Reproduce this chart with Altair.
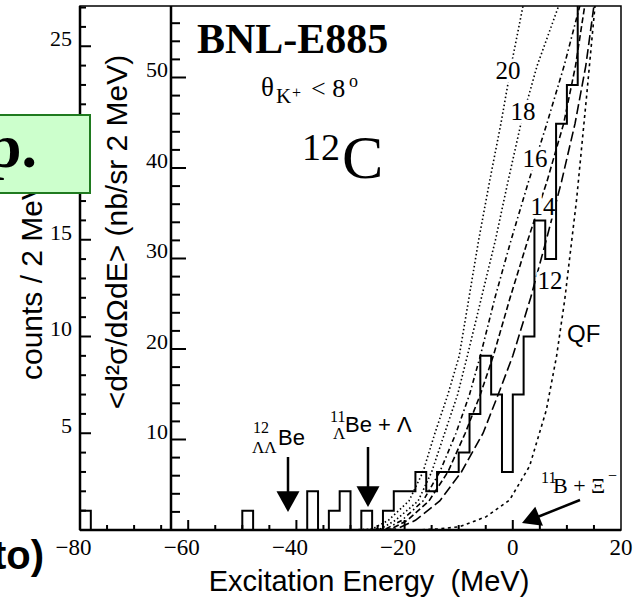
import altair as alt
import pandas as pd

# ---------------- data ----------------
# histogram: 2-MeV bins (left edges) and counts; the last bin runs off the top
bin_left_edges = list(range(-80, 14, 2))
bin_counts = [1, 0, 0, 0, 0, 0, 0, 0, 0, 0, 0, 0, 0, 0, 0,
              1, 0, 0, 0, 0, 0,
              2, 0, 1, 2, 0, 1, 0,
              1, 2, 2, 3, 2, 3,
              3, 4, 6, 9, 7, 3,
              7, 10, 16, 14, 21, 23, 28]

# calculated spectra, read at fixed count levels
curve_levels = [0, 0.05, 0.5, 1.5, 3, 5, 7, 9, 12, 15, 18, 21, 24, 27.1]
curve20_E = [-30, -26, -23, -19.2, -16.6, -14.4, -12.0, -9.9, -8.1, -6.3, -4.3, -2.2, -0.3, 1.9]
curve18_E = [-29, -24.5, -21.7, -17.5, -15.0, -12.6, -10.2, -8.4, -5.8, -3.2, -0.9, 1.5, 4.5, 8.5]
curve16_E = [-28, -23.5, -20.5, -16.6, -13.5, -10.5, -8.0, -6.0, -3.3, -0.3, 2.9, 6.3, 9.5, 12.4]
curve14_E = [-27, -22.5, -19.5, -15.5, -12.0, -8.8, -6.0, -3.6, -0.5, 2.8, 6.3, 9.4, 11.6, 13.3]
curve12_E = [-26, -21.5, -18.0, -13.5, -9.5, -5.5, -2.7, 0.0, 3.3, 6.2, 9.0, 11.5, 13.5, 15.0]
qf_E = [-18, -14, -9.8, -4.9, -0.6, 3.1, 6.2, 8.1, 9.6, 11.8, 13.6, 15.2]
qf_c = [0, 0.05, 0.17, 0.69, 1.55, 3.3, 6.2, 9.0, 11.9, 17.1, 22.3, 27.1]

# axes
x_tick_labels = [-80, -60, -40, -20, 0, 20]
x_major_ticks = [-60, -40, -20, 0]
x_minor_ticks = [-75, -70, -65, -55, -50, -45, -35, -30, -25, -15, -10, -5, 5, 10, 15]
count_tick_labels = [5, 10, 15, 20, 25]
count_minor_ticks = [v for v in range(1, 28) if v % 5]
xsec_tick_labels = [10, 20, 30, 40, 50]
xsec_minor_ticks = [v for v in range(2, 58, 2) if v % 10]

# ---------------- layout ----------------
W, H = 541, 524
OX, OY = 80, 6
INNER_X = 91
SERIF = "Liberation Serif"
SANS = "Liberation Sans"
XLAB_PAD = 7
XLAB_SIZE = 23
COUNT_MAX = 27.08   # top of the counts axis
XSEC_MAX = 57.9     # top of the cross-section axis

xs = alt.Scale(domain=[-80, 20], nice=False, zero=False)
ys = alt.Scale(domain=[0, COUNT_MAX], nice=False, zero=False)
XSEC_TO_COUNTS = f"datum.v * {COUNT_MAX} / {XSEC_MAX}"

one = pd.DataFrame({"k": [0]})
ARROW = "M -1 -0.8 L 1 -0.8 L 0 1 Z"


def txt(s, x, y, size, font=SERIF, weight="normal", align="left",
        baseline="alphabetic", angle=0, **kw):
    return alt.Chart(one).mark_text(
        text=s, font=font, fontSize=size, fontWeight=weight, align=align,
        baseline=baseline, angle=angle, color="black", **kw
    ).encode(x=alt.value(x - OX), y=alt.value(y - OY))


def halo(s, x, y, size):
    return alt.Chart(one).mark_text(
        text=s, font=SERIF, fontSize=size, align="center", baseline="middle",
        color="white", stroke="white", strokeWidth=7
    ).encode(x=alt.value(x - OX), y=alt.value(y - OY))


def curve(E, c, dash, width=1.6):
    df = pd.DataFrame({"E": E, "c": c, "i": list(range(len(E)))})
    return alt.Chart(df).mark_line(
        color="black", strokeWidth=width, strokeDash=dash, clip=True
    ).encode(x=alt.X("E:Q", scale=xs, axis=None),
             y=alt.Y("c:Q", scale=ys, axis=None),
             order="i:Q")


def ytick(vals, x0, length, expr="datum.v"):
    return alt.Chart(pd.DataFrame({"v": vals})).transform_calculate(c=expr).mark_rule(
        color="black", strokeWidth=2).encode(
        y=alt.Y("c:Q", scale=ys, axis=None), x=alt.value(x0), x2=alt.value(x0 + length))


def xtick(vals, length):
    return alt.Chart(pd.DataFrame({"v": vals})).transform_calculate(e="datum.v").mark_rule(
        color="black", strokeWidth=2).encode(
        x=alt.X("e:Q", scale=xs, axis=None), y=alt.value(H), y2=alt.value(H - length))


def head(x, y, size, angle=0):
    return alt.Chart(one).mark_point(
        shape=ARROW, filled=True, color="black", opacity=1, size=size, angle=angle,
        strokeWidth=0
    ).encode(x=alt.value(x - OX), y=alt.value(y - OY))


def seg(x1, y1, x2, y2, w=2.5):
    return alt.Chart(one).mark_rule(color="black", strokeWidth=w).encode(
        x=alt.value(x1 - OX), y=alt.value(y1 - OY), x2=alt.value(x2 - OX), y2=alt.value(y2 - OY))


# ---------------- histogram ----------------
hist_df = pd.DataFrame({"E": bin_left_edges + [14], "n": bin_counts + [bin_counts[-1]]})
hist = alt.Chart(hist_df).mark_line(
    interpolate="step-after", color="black", strokeWidth=2, clip=True
).encode(x=alt.X("E:Q", scale=xs, axis=None), y=alt.Y("n:Q", scale=ys, axis=None))

# x tick labels: digits centred on the tick, minus sign hanging to the left
xlab_df = pd.DataFrame({"v": x_tick_labels,
                        "digits": [str(abs(v)) for v in x_tick_labels],
                        "sign": ["−" if v < 0 else "" for v in x_tick_labels]})
xlab_digits = alt.Chart(xlab_df).mark_text(
    font=SERIF, fontSize=XLAB_SIZE, align="center", baseline="top", color="black"
).encode(x=alt.X("v:Q", scale=xs, axis=None), y=alt.value(H + XLAB_PAD), text="digits:N")
xlab_minus = alt.Chart(xlab_df).mark_text(
    font=SERIF, fontSize=XLAB_SIZE, align="right", baseline="top", dx=-XLAB_SIZE / 2,
    color="black"
).encode(x=alt.X("v:Q", scale=xs, axis=None), y=alt.value(H + XLAB_PAD), text="sign:N")

# frame lines of the two y axes and the x axis
bottom_line = alt.Chart(one).mark_rule(color="black", strokeWidth=2.5).encode(
    x=alt.value(0), x2=alt.value(W), y=alt.value(H))
left_line = alt.Chart(one).mark_rule(color="black", strokeWidth=2.5).encode(
    x=alt.value(0), y=alt.value(0), y2=alt.value(H))
inner_line = alt.Chart(one).mark_rule(color="black", strokeWidth=2.5).encode(
    x=alt.value(INNER_X), y=alt.value(0), y2=alt.value(H))

# y axis labels
count_labels = alt.Chart(pd.DataFrame({"v": count_tick_labels})).transform_calculate(
    c="datum.v"
).mark_text(
    font=SERIF, fontSize=22, align="right", baseline="alphabetic", color="black"
).encode(y=alt.Y("c:Q", scale=ys, axis=None), x=alt.value(-8), text="v:Q")
xsec_labels = alt.Chart(pd.DataFrame({"v": xsec_tick_labels})).transform_calculate(
    c=XSEC_TO_COUNTS
).mark_text(
    font=SERIF, fontSize=22, align="right", baseline="alphabetic", color="black"
).encode(y=alt.Y("c:Q", scale=ys, axis=None), x=alt.value(INNER_X - 3), text="v:Q")

curves = [
    curve(curve20_E, curve_levels, [1.5, 2.5]),
    curve(curve18_E, curve_levels, [1.5, 2.5]),
    curve(curve16_E, curve_levels, [5, 3, 1.5, 3]),
    curve(curve14_E, curve_levels, [6, 3]),
    curve(curve12_E, curve_levels, [10, 4]),
    curve(qf_E, qf_c, [3, 3.5]),
]

curve_labels = []
for s, x, y in [("20", 508, 71), ("18", 523, 112), ("16", 535, 159),
                ("14", 543, 207), ("12", 550, 281)]:
    curve_labels.append(halo(s, x, y, 25))
    curve_labels.append(txt(s, x, y, 25, align="center", baseline="middle"))

ticks = [
    ytick(count_tick_labels, 0, 11),
    ytick(count_minor_ticks, 0, 6),
    ytick(xsec_tick_labels, INNER_X, 15, XSEC_TO_COUNTS),
    ytick(xsec_minor_ticks, INNER_X, 9, XSEC_TO_COUNTS),
    xtick(x_major_ticks, 10),
    xtick(x_minor_ticks, 5),
]

texts = [
    txt("counts / 2 MeV", 33, 280, 30, font=SANS, align="center", baseline="middle", angle=270),
    txt("<d²σ/dΩdE> (nb/sr 2 MeV)", 118, 232, 30, font=SANS, align="center", baseline="middle", angle=270),
    txt("Excitation Energy\u00a0 (MeV)", 369, 591, 29, font=SANS, align="center"),
    txt("BNL-E885", 197, 53, 42, weight="bold"),
    txt("θ", 261, 96, 27),
    txt("K", 276, 103, 21),
    txt("+", 292, 98, 16),
    txt("< 8", 311, 97, 26),
    txt("o", 349, 87, 18),
    txt("12", 302, 160, 38),
    txt("C", 342, 178, 62),
    txt("QF", 567, 342, 24, font=SANS),
    # 12/ΛΛ Be
    txt("12", 253, 433, 16),
    txt("ΛΛ", 252, 453, 17),
    txt("Be", 278, 445, 22, font=SANS),
    # 11/Λ Be + Λ
    txt("11", 330, 422, 16),
    txt("Λ", 333, 439, 17),
    txt("Be + Λ", 345, 432, 22, font=SANS),
    # 11B + Ξ-
    txt("11", 541, 483, 16),
    txt("B + Ξ", 553, 493, 22),
    txt("−", 608, 481, 16),
]

arrows = [
    seg(288, 457, 288, 495), head(288, 500.5, 529),
    seg(368, 447, 368, 490), head(368, 495.5, 529),
    seg(580, 500, 535, 518), head(531.5, 519.2, 420, angle=68),
]

box = alt.Chart(one).mark_rect(
    fill="#ccffcc", stroke="#1f7a1f", strokeWidth=2
).encode(x=alt.value(-82), x2=alt.value(10), y=alt.value(109), y2=alt.value(187))

cover_texts = [
    txt("p.", 37, 167, 62, weight="bold", align="right"),
    txt("to)", 44, 569, 40, font=SANS, weight="bold", align="right"),
]

chart = alt.layer(
    *ticks, *curves, *curve_labels, hist, bottom_line, left_line, inner_line,
    xlab_digits, xlab_minus, count_labels, xsec_labels,
    *texts, *arrows, box, *cover_texts
).properties(
    width=W, height=H,
    padding={"left": OX, "top": OY, "right": 638 - OX - W, "bottom": 598 - OY - H},
    autosize=alt.AutoSizeParams(type="none"),
    background="white",
).configure_view(stroke="black", strokeWidth=1.5)

chart.save("out.html", embed_options={"renderer": "svg", "actions": False})
